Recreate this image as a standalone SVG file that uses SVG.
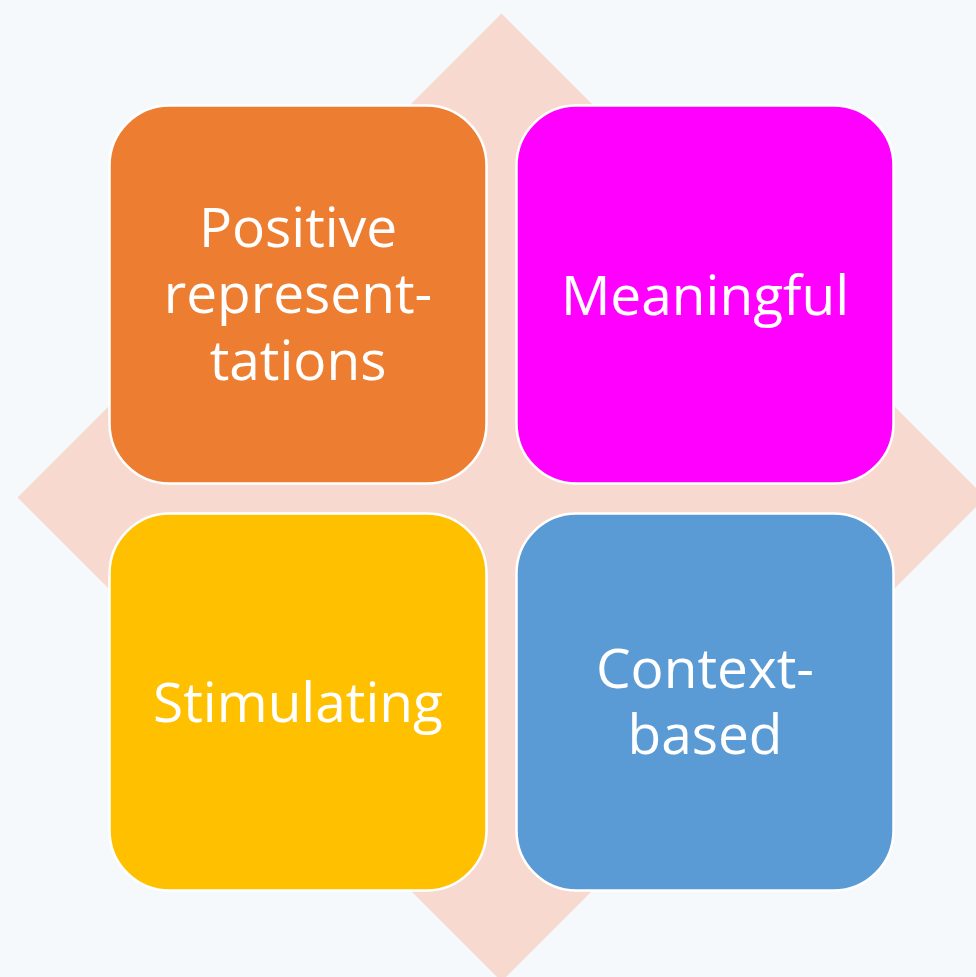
<svg xmlns="http://www.w3.org/2000/svg" width="976" height="977" viewBox="0 0 976 977">
<style>
.box{stroke:#fff;stroke-width:2.5}
.t{font-family:"Open Sans","Noto Sans",sans-serif;font-size:55px;fill:#fff;text-anchor:middle}
</style>
<rect width="976" height="977" fill="#F5F9FC"/>
<polygon points="501.5,13.5 985.5,497.5 501.5,981.5 17.5,497.5" fill="#F8D9CF"/>
<g id="node-positive">
<rect class="box" x="109.5" y="105.5" width="377" height="378" rx="60" fill="#ED7D31"/>
<text class="t" x="298" y="247">Positive</text>
<text class="t" x="298" y="313">represent-</text>
<text class="t" x="298" y="380">tations</text>
</g>
<g id="node-meaningful">
<rect class="box" x="516.5" y="105.5" width="377" height="378" rx="60" fill="#FF00FF"/>
<text class="t" x="705" y="315">Meaningful</text>
</g>
<g id="node-stimulating">
<rect class="box" x="109.5" y="513.5" width="377" height="377" rx="60" fill="#FFC000"/>
<text class="t" x="298" y="722">Stimulating</text>
</g>
<g id="node-context">
<rect class="box" x="516.5" y="513.5" width="377" height="377" rx="60" fill="#5B9BD5"/>
<text class="t" x="705" y="688">Context-</text>
<text class="t" x="705" y="754">based</text>
</g>
<g id="connectors"></g>
</svg>
